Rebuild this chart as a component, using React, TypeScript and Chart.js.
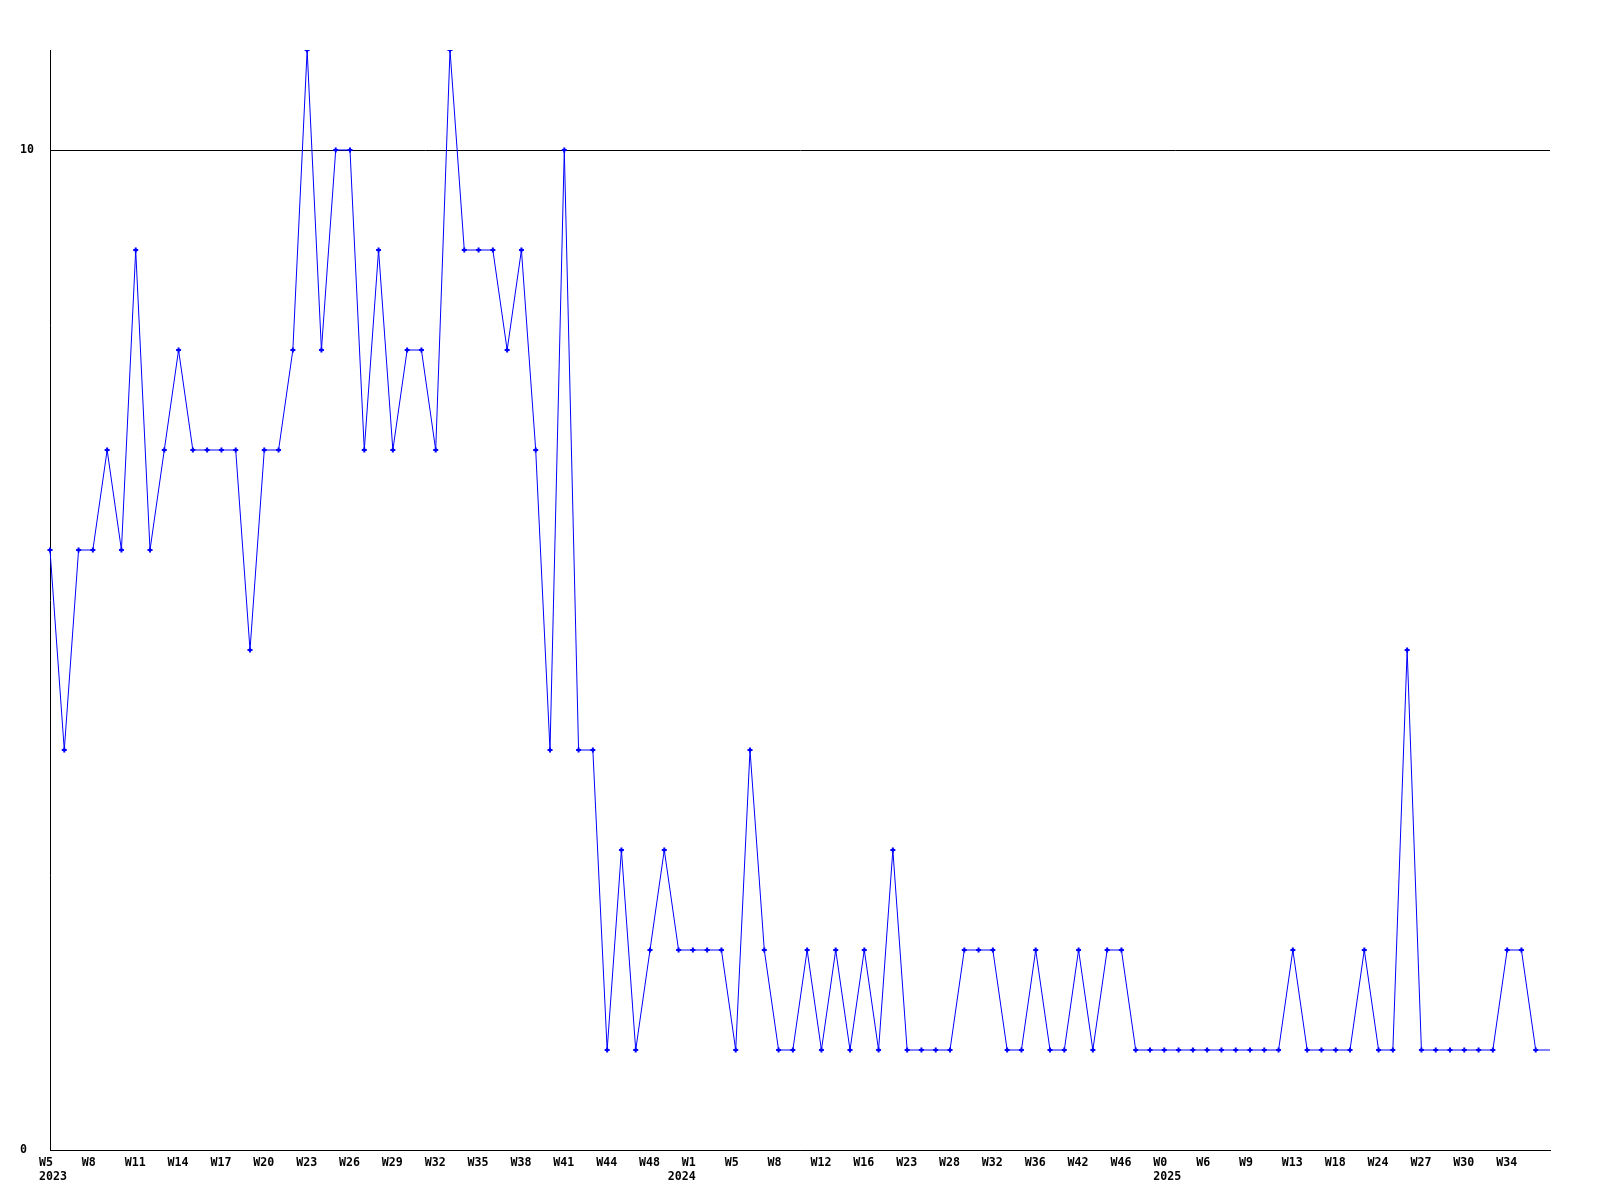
import React, { useEffect, useRef } from "react";
import { Chart, registerables } from "chart.js";

Chart.register(...registerables);

// Week labels per year (only every third one is shown on the axis)
const weeks2023 = [
  "W5", "W6", "W7", "W8", "W9", "W10", "W11", "W12", "W13", "W14",
  "W15", "W16", "W17", "W18", "W19", "W20", "W21", "W22", "W23", "W24",
  "W25", "W26", "W27", "W28", "W29", "W30", "W31", "W32", "W33", "W34",
  "W35", "W36", "W37", "W38", "W39", "W40", "W41", "W42", "W43", "W44",
  "W45", "W46", "W48", "W49", "W50",
];
const weeks2024 = [
  "W1", "W3", "W4", "W5", "W6", "W7", "W8", "W9", "W11", "W12",
  "W14", "W15", "W16", "W18", "W20", "W23", "W25", "W26", "W28", "W30",
  "W31", "W32", "W34", "W35", "W36", "W38", "W40", "W42", "W43", "W44",
  "W46", "W48", "W51",
];
const weeks2025 = [
  "W0", "W2", "W4", "W6", "W7", "W8", "W9", "W11", "W12", "W13",
  "W15", "W17", "W18", "W20", "W22", "W24", "W25", "W26", "W27", "W28",
  "W29", "W30", "W32", "W33", "W34", "W35", "W36", "W37",
];
const yearNames = ["2023", "2024", "2025"];
// how many characters the year line sits left of the week label
const yearShiftChars = [0, 2, 0];

// Series values, one per week above
const values = [
  6, 4, 6, 6, 7, 6, 9, 6, 7, 8, 7, 7, 7, 7, 5, 7, 7, 8, 11, 8,
  10, 10, 7, 9, 7, 8, 8, 7, 11, 9, 9, 9, 8, 9, 7, 4, 10, 4, 4, 1,
  3, 1, 2, 3, 2, 2, 2, 2, 1, 4, 2, 1, 1, 2, 1, 2, 1, 2, 1, 3,
  1, 1, 1, 1, 2, 2, 2, 1, 1, 2, 1, 1, 2, 1, 2, 2, 1, 1, 1, 1,
  1, 1, 1, 1, 1, 1, 1, 2, 1, 1, 1, 1, 2, 1, 1, 5, 1, 1, 1, 1,
  1, 1, 2, 2, 1, 1,
];

// Y tick labels shown
const yTickValues = [0, 10];

const weekGroups = [weeks2023, weeks2024, weeks2025];
const labels: string[] = [];
const labelYears: string[] = [];
const yearStart: boolean[] = [];
const yearShift: number[] = [];
weekGroups.forEach((g, gi) => {
  g.forEach((w, wi) => {
    labels.push(w);
    labelYears.push(yearNames[gi]);
    yearStart.push(wi === 0);
    yearShift.push(yearShiftChars[gi]);
  });
});

const FONT = {
  family: "'DejaVu Sans Mono', monospace",
  size: 11.63,
  weight: "bold" as const,
  lineHeight: "14px",
};

const padRight = (s: string, n: number) => (s.length >= n ? s : s + " ".repeat(n - s.length));

// Monospace labels, centred on tick+10 over a fixed width so they read left-aligned
function tickLabel(index: number): string | string[] {
  if (index % 3 !== 0 || index >= labels.length - 1) return "";
  const w = labels[index];
  if (!yearStart[index]) return padRight(w, 6);
  const sh = yearShift[index];
  const width = 6 + 2 * sh;
  return [padRight(" ".repeat(sh) + w, width), padRight(labelYears[index], width)];
}

export default function App() {
  const ref = useRef<HTMLCanvasElement | null>(null);

  useEffect(() => {
    if (!ref.current) return;
    const lastIndex = values.length - 1;
    const chart = new Chart(ref.current, {
      type: "line",
      data: {
        labels,
        datasets: [
          {
            data: values,
            borderColor: "#0000ff",
            backgroundColor: "#0000ff",
            borderWidth: 1,
            pointStyle: "cross",
            pointRadius: (ctx: any) => (ctx.dataIndex === lastIndex ? 0 : 2.5),
            pointBorderWidth: 2,
            pointBackgroundColor: "#0000ff",
            pointBorderColor: "#0000ff",
            tension: 0,
            fill: false,
          },
        ],
      },
      options: {
        animation: false,
        responsive: false,
        maintainAspectRatio: false,
        layout: { padding: { left: 20, right: 50, top: 50, bottom: 0 } },
        plugins: {
          legend: { display: false },
          tooltip: { enabled: false },
          title: { display: false },
        },
        scales: {
          x: {
            type: "category",
            offset: false,
            grid: { display: false, drawTicks: false },
            border: { display: true, color: "#000000", width: 1 },
            afterFit: (scale: any) => {
              scale.height = 50;
            },
            ticks: {
              autoSkip: false,
              maxRotation: 0,
              minRotation: 0,
              labelOffset: 10,
              padding: 6,
              color: "#000000",
              font: FONT,
              callback: (_v: any, index: number) => tickLabel(index),
            },
          },
          y: {
            min: 0,
            max: 11,
            afterFit: (scale: any) => {
              scale.width = 30;
            },
            afterBuildTicks: (scale: any) => {
              scale.ticks = yTickValues.map((v) => ({ value: v }));
            },
            grid: {
              display: true,
              color: "#000000",
              lineWidth: 1,
              drawTicks: false,
            },
            border: { display: true, color: "#000000", width: 1 },
            ticks: {
              crossAlign: "far",
              color: "#000000",
              font: FONT,
              callback: (v: any) => String(v),
            },
          },
        },
      },
    });
    return () => chart.destroy();
  }, []);

  return (
    <div
      style={{
        position: "fixed",
        left: 0,
        top: 0,
        width: 1600,
        height: 1200,
        background: "#ffffff",
      }}
    >
      <canvas ref={ref} width={1600} height={1200} style={{ width: 1600, height: 1200 }} />
    </div>
  );
}
